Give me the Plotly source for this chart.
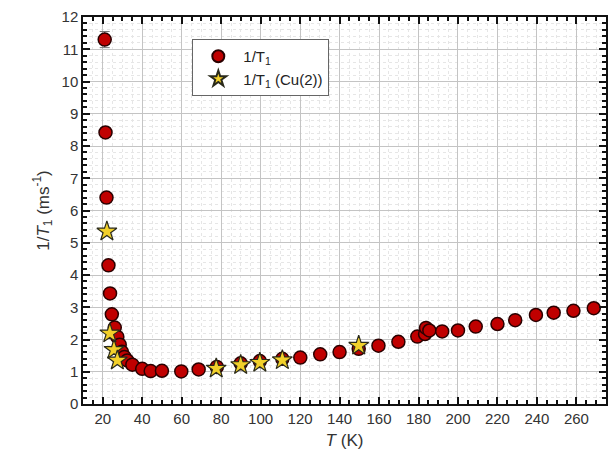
import plotly.graph_objects as go

# 1/T1 data (circles)
t_all = [21.0, 21.4, 21.9, 22.9, 23.7, 24.6, 26.1, 27.4, 28.6, 29.7, 31.0, 32.4, 35.0,
         40.0, 44.3, 50.0, 59.8, 68.6, 77.8, 89.9, 99.6, 111.0, 120.1, 130.2, 140.0,
         149.7, 159.7, 169.8, 179.4, 183.3, 183.8, 185.5, 192.0, 200.0, 209.0, 220.0,
         229.0, 239.5, 248.5, 258.5, 268.8]
r_all = [11.3, 8.42, 6.40, 4.30, 3.43, 2.78, 2.37, 2.08, 1.84, 1.62, 1.46, 1.35, 1.22,
         1.09, 1.02, 1.03, 1.01, 1.07, 1.15, 1.26, 1.33, 1.40, 1.44, 1.54, 1.61,
         1.71, 1.81, 1.93, 2.09, 2.17, 2.36, 2.28, 2.25, 2.28, 2.40, 2.48,
         2.60, 2.76, 2.83, 2.89, 2.97]
err_all = [0.25] + [0.0] * (len(t_all) - 1)

# 1/T1 (Cu(2)) data (stars)
t_cu2 = [22.1, 23.6, 25.7, 27.4, 77.5, 89.9, 99.6, 111.0, 149.7]
r_cu2 = [5.35, 2.19, 1.68, 1.35, 1.10, 1.21, 1.28, 1.36, 1.81]

x_ticks = [20, 40, 60, 80, 100, 120, 140, 160, 180, 200, 220, 240, 260]
y_ticks = list(range(0, 13))

FONT = "Liberation Sans, Arial, sans-serif"

fig = go.Figure()
fig.add_trace(go.Scatter(
    x=t_all, y=r_all, mode="markers", name="1/T<sub>1</sub>",
    marker=dict(symbol="circle", size=13, color="#c00000",
                line=dict(color="#2a0000", width=1.5)),
    error_y=dict(type="data", array=err_all, visible=True, color="#777777",
                 thickness=1, width=5),
))
fig.add_trace(go.Scatter(
    x=t_cu2, y=r_cu2, mode="markers", name="1/T<sub>1</sub> (Cu(2))",
    marker=dict(symbol="star", size=15, color="#f2d02a",
                line=dict(color="#2a2a1a", width=1.2)),
))

axis_common = dict(
    showline=True, linecolor="#111111", linewidth=1.5, mirror="ticks",
    ticks="inside", ticklen=7, tickwidth=1.5, tickcolor="#111111",
    showgrid=True, gridcolor="#c4c4c4", gridwidth=1,
    tickfont=dict(family=FONT, size=15, color="#333333"),
    zeroline=False,
)

fig.update_xaxes(
    range=[10, 275], tickvals=x_ticks,
    title=dict(text="<i>T</i> (K)", font=dict(family=FONT, size=17, color="#333333"), standoff=8),
    minor=dict(dtick=5, tick0=0, ticks="inside", ticklen=4, tickcolor="#111111",
               showgrid=True, gridcolor="#e6e6e6", griddash="dot"),
    **axis_common,
)
fig.update_yaxes(
    range=[0, 12], tickvals=y_ticks,
    title=dict(text="1/<i>T</i><sub>1</sub> (ms<sup>-1</sup>)",
               font=dict(family=FONT, size=17, color="#333333"), standoff=8),
    minor=dict(dtick=0.2, tick0=0, ticks="inside", ticklen=4, tickcolor="#111111",
               showgrid=True, gridcolor="#e6e6e6", griddash="dot"),
    **axis_common,
)

fig.update_layout(
    width=611, height=459,
    margin=dict(l=83, r=3, t=17, b=55),
    paper_bgcolor="white", plot_bgcolor="white",
    showlegend=True,
    legend=dict(x=0.209, y=0.943, xanchor="left", yanchor="top",
                bgcolor="white", bordercolor="#666666", borderwidth=1,
                font=dict(family=FONT, size=15, color="#222222"),
                itemsizing="constant", tracegroupgap=0, itemwidth=40),
)

fig.write_html("out.html")
